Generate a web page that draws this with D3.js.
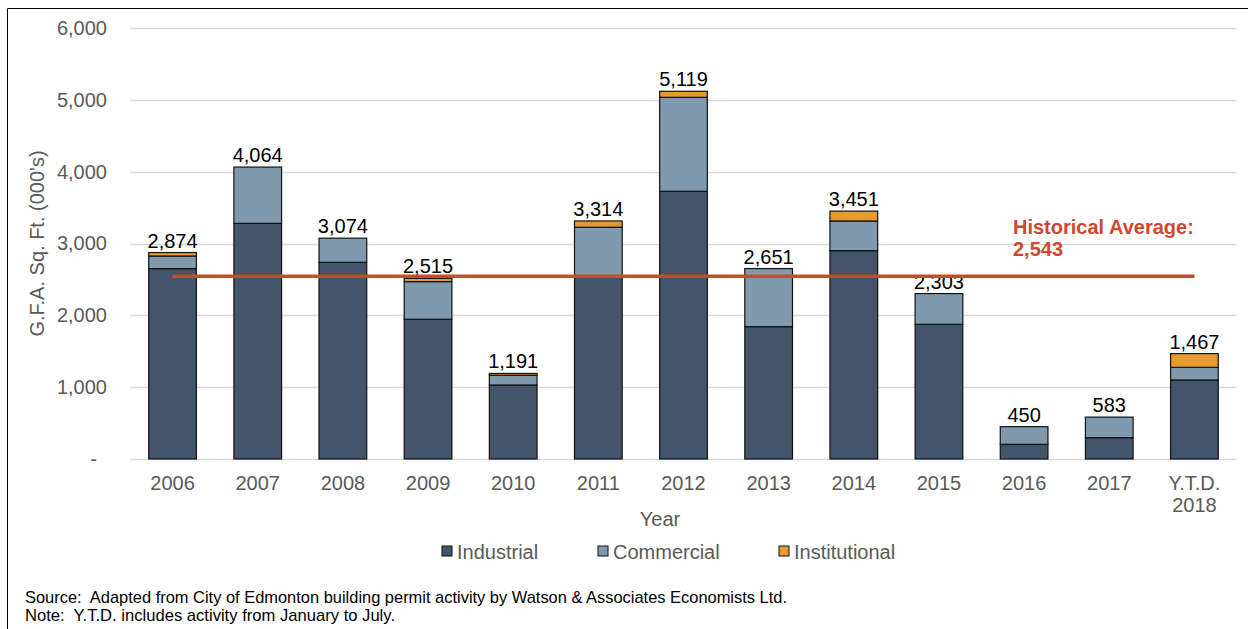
<!DOCTYPE html>
<html>
<head>
<meta charset="utf-8">
<script src="https://cdn.jsdelivr.net/npm/d3@7"></script>
<style>
  body { margin: 0; background: #fff; }
  svg { display: block; font-family: "Liberation Sans", Arial, sans-serif; }
</style>
</head>
<body>
<svg width="1248" height="629"></svg>
<script>
const years = ["2006", "2007", "2008", "2009", "2010", "2011", "2012", "2013", "2014", "2015", "2016", "2017", "Y.T.D. 2018"];
const industrial = [2650, 3280, 2738, 1945, 1030, 2530, 3727, 1842, 2900, 1875, 204, 297, 1100];
const commercial = [176, 784, 336, 524, 135, 696, 1308, 809, 413, 428, 246, 286, 176];
const institutional = [48, 0, 0, 46, 26, 88, 84, 0, 138, 0, 0, 0, 191];
const totals = [2874, 4064, 3074, 2515, 1191, 3314, 5119, 2651, 3451, 2303, 450, 583, 1467];
const yTicks = [0, 1000, 2000, 3000, 4000, 5000, 6000];
const historicalAverage = 2543;

const seriesKeys = ["Industrial", "Commercial", "Institutional"];
const colors = { Industrial: "#44546a", Commercial: "#7f9aae", Institutional: "#e69a2e" };

const svg = d3.select("svg");
const margin = { top: 28, left: 130, right: 11, bottom: 170 };
const width = 1248;
const height = 629;
const fs = 20;

// chart frame (only top and left edges fall inside the picture)
svg.append("path")
  .attr("d", "M7.5,629 V8.5 H1248")
  .attr("fill", "none")
  .attr("stroke", "#000")
  .attr("stroke-width", 1);

const table = years.map((y, i) => ({
  year: y,
  Industrial: industrial[i],
  Commercial: commercial[i],
  Institutional: institutional[i],
  total: totals[i]
}));

const x = d3.scaleBand()
  .domain(years)
  .range([margin.left, width - margin.right])
  .paddingInner(0.44)
  .paddingOuter(0.22);

const y = d3.scaleLinear()
  .domain([0, 6000])
  .range([height - margin.bottom, margin.top]);

// gridlines
svg.append("g")
  .selectAll("line")
  .data(yTicks)
  .join("line")
  .attr("x1", margin.left)
  .attr("x2", width - margin.right)
  .attr("y1", d => Math.round(y(d)) + 0.5)
  .attr("y2", d => Math.round(y(d)) + 0.5)
  .attr("stroke", "#d9d9d9")
  .attr("stroke-width", 1.3);

// y axis labels
const yAxis = svg.append("g")
  .attr("transform", `translate(${margin.left - 23},0)`)
  .call(d3.axisLeft(y).tickValues(yTicks).tickSize(0).tickPadding(0)
    .tickFormat(d => d === 0 ? "-" : d3.format(",")(d)));
yAxis.select(".domain").remove();
yAxis.selectAll("text")
  .attr("fill", "#595959")
  .attr("font-size", fs)
  .attr("font-family", "Liberation Sans, Arial, sans-serif")
  .filter(d => d === 0).attr("dx", -10);

// stacked bars
const stack = d3.stack().keys(seriesKeys)(table);
svg.append("g")
  .selectAll("g")
  .data(stack)
  .join("g")
  .attr("fill", d => colors[d.key])
  .selectAll("rect")
  .data(d => d.filter(p => p[1] - p[0] > 0))
  .join("rect")
  .attr("x", d => x(d.data.year))
  .attr("y", d => y(d[1]))
  .attr("width", x.bandwidth())
  .attr("height", d => y(d[0]) - y(d[1]))
  .attr("stroke", "#111")
  .attr("stroke-width", 1.2);

// x axis labels
const xAxis = svg.append("g")
  .attr("transform", `translate(0,${height - margin.bottom})`)
  .call(d3.axisBottom(x).tickSize(0).tickPadding(0).tickFormat(""));
xAxis.select(".domain").remove();
xAxis.selectAll(".tick").each(function (d) {
  const parts = d.startsWith("Y.T.D.") ? ["Y.T.D.", "2018"] : [d];
  const t = d3.select(this).append("text")
    .attr("fill", "#595959")
    .attr("font-size", fs)
    .attr("text-anchor", "middle");
  parts.forEach((p, i) => t.append("tspan").attr("x", 0).attr("y", 31 + i * 22).text(p));
});

// total labels
svg.append("g")
  .selectAll("text")
  .data(table)
  .join("text")
  .attr("x", d => x(d.year) + x.bandwidth() / 2)
  .attr("y", d => y(d.total) - 5)
  .attr("text-anchor", "middle")
  .attr("font-size", fs)
  .attr("fill", "#000")
  .text(d => d3.format(",")(d.total));

// historical average line
svg.append("line")
  .attr("x1", x(years[0]) + x.bandwidth() / 2)
  .attr("x2", x(years[years.length - 1]) + x.bandwidth() / 2)
  .attr("y1", y(historicalAverage))
  .attr("y2", y(historicalAverage))
  .attr("stroke", "#d0472f")
  .attr("stroke-width", 3.5);

const avgLabel = svg.append("text")
  .attr("fill", "#d0472f")
  .attr("font-size", fs)
  .attr("font-weight", "bold");
avgLabel.append("tspan").attr("x", 1013).attr("y", 234).text("Historical Average:");
avgLabel.append("tspan").attr("x", 1013).attr("y", 256).text(d3.format(",")(historicalAverage));

// axis titles
svg.append("text")
  .attr("transform", `translate(44,${(y(0) + y(6000)) / 2}) rotate(-90)`)
  .attr("text-anchor", "middle")
  .attr("fill", "#595959")
  .attr("font-size", fs)
  .text("G.F.A. Sq. Ft. (000's)");

svg.append("text")
  .attr("x", 660)
  .attr("y", 526)
  .attr("text-anchor", "middle")
  .attr("fill", "#595959")
  .attr("font-size", fs)
  .text("Year");

// legend
const legendX = [442, 598, 779];
const legend = svg.append("g")
  .selectAll("g")
  .data(seriesKeys)
  .join("g")
  .attr("transform", (d, i) => `translate(${legendX[i]},551)`);
legend.append("rect")
  .attr("x", 0).attr("y", -5)
  .attr("width", 10).attr("height", 10)
  .attr("fill", d => colors[d])
  .attr("stroke", "#111")
  .attr("stroke-width", 1);
legend.append("text")
  .attr("x", 15)
  .attr("y", 7.5)
  .attr("fill", "#595959")
  .attr("font-size", fs)
  .text(d => d);

// footer notes
const notes = [
  "Source:  Adapted from City of Edmonton building permit activity by Watson & Associates Economists Ltd.",
  "Note:  Y.T.D. includes activity from January to July."
];
const noteWidths = [762, 370];
svg.append("g")
  .selectAll("text")
  .data(notes)
  .join("text")
  .attr("x", 25)
  .attr("y", (d, i) => 603 + i * 18)
  .attr("font-size", 17)
  .attr("fill", "#000")
  .style("white-space", "pre")
  .attr("textLength", (d, i) => noteWidths[i])
  .attr("lengthAdjust", "spacingAndGlyphs")
  .text(d => d);
</script>
</body>
</html>
